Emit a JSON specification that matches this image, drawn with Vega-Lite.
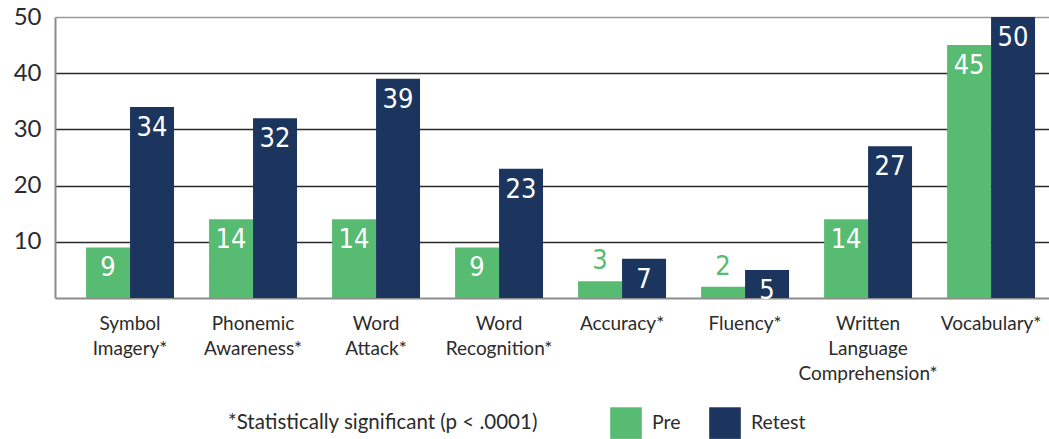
{
  "$schema": "https://vega.github.io/schema/vega-lite/v6.json",
  "autosize": {"type": "none"},
  "padding": {"left": 55, "top": 17, "right": 0, "bottom": 141},
  "width": 994,
  "height": 281,
  "background": "white",
  "config": {
    "view": {"stroke": null},
    "font": "Lato"
  },
  "data": {
    "values": [
      {"measure": "Symbol Imagery*", "series": "Pre", "value": 9},
      {"measure": "Symbol Imagery*", "series": "Retest", "value": 34},
      {"measure": "Phonemic Awareness*", "series": "Pre", "value": 14},
      {"measure": "Phonemic Awareness*", "series": "Retest", "value": 32},
      {"measure": "Word Attack*", "series": "Pre", "value": 14},
      {"measure": "Word Attack*", "series": "Retest", "value": 39},
      {"measure": "Word Recognition*", "series": "Pre", "value": 9},
      {"measure": "Word Recognition*", "series": "Retest", "value": 23},
      {"measure": "Accuracy*", "series": "Pre", "value": 3},
      {"measure": "Accuracy*", "series": "Retest", "value": 7},
      {"measure": "Fluency*", "series": "Pre", "value": 2},
      {"measure": "Fluency*", "series": "Retest", "value": 5},
      {"measure": "Written Language Comprehension*", "series": "Pre", "value": 14},
      {"measure": "Written Language Comprehension*", "series": "Retest", "value": 27},
      {"measure": "Vocabulary*", "series": "Pre", "value": 45},
      {"measure": "Vocabulary*", "series": "Retest", "value": 50}
    ]
  },
  "encoding": {
    "x": {
      "field": "measure",
      "type": "nominal",
      "sort": null,
      "scale": {"paddingInner": 0.285, "paddingOuter": 0.183, "align": 0.69},
      "axis": {
        "title": null,
        "labelAngle": 0,
        "labelExpr": "split(datum.label, ' ')",
        "labelFontSize": 19,
        "labelColor": "#2b2b2b",
        "labelPadding": 16,
        "labelLineHeight": 25,
        "labelBaseline": "top",
        "ticks": false,
        "domainColor": "#8c8c8c",
        "domainWidth": 2,
        "grid": false
      }
    },
    "xOffset": {"field": "series", "type": "nominal", "sort": ["Pre", "Retest"], "scale": {"paddingInner": 0, "paddingOuter": 0}},
    "y": {
      "field": "value",
      "type": "quantitative",
      "scale": {"domain": [0, 50], "nice": false},
      "axis": {
        "title": null,
        "values": [10, 20, 30, 40, 50],
        "labelFontSize": 24,
        "labelColor": "#2b2b2b",
        "labelPadding": 14,
        "ticks": false,
        "domainColor": "#8c8c8c",
        "domainWidth": 2,
        "gridColor": {"condition": {"test": "datum.value == 50", "value": "#9a9a9a"}, "value": "#2a2a2a"},
        "gridWidth": 1.5
      }
    }
  },
  "layer": [
    {
      "mark": {"type": "bar"},
      "encoding": {
        "color": {
          "field": "series",
          "type": "nominal",
          "scale": {"domain": ["Pre", "Retest"], "range": ["#58bb72", "#1c355e"]},
          "legend": {
            "title": "*Statistically significant (p < .0001)",
            "orient": "none",
            "legendX": 173,
            "legendY": 390,
            "direction": "horizontal",
            "titleOrient": "left",
            "titleLimit": 500,
            "titleFontSize": 20.5,
            "titleFontWeight": "normal",
            "titleColor": "#2b2b2b",
            "titlePadding": 72,
            "titleBaseline": "middle",
            "titleAnchor": "middle",
            "symbolType": "square",
            "symbolSize": 1000,
            "symbolStrokeWidth": 0,
            "symbolOpacity": 1,
            "labelFontSize": 19.5,
            "labelColor": "#2b2b2b",
            "labelOffset": 10,
            "columnPadding": 28
          }
        }
      }
    },
    {
      "transform": [{"filter": "datum.value >= 5"}],
      "mark": {"type": "text", "baseline": "top", "dy": 8, "font": "DejaVu Sans Condensed", "fontSize": 27, "color": "white"},
      "encoding": {"text": {"field": "value", "type": "quantitative"}}
    },
    {
      "transform": [{"filter": "datum.value < 5"}],
      "mark": {"type": "text", "baseline": "alphabetic", "dy": -12, "font": "DejaVu Sans Condensed", "fontSize": 27, "color": "#58bb72"},
      "encoding": {"text": {"field": "value", "type": "quantitative"}}
    }
  ]
}
